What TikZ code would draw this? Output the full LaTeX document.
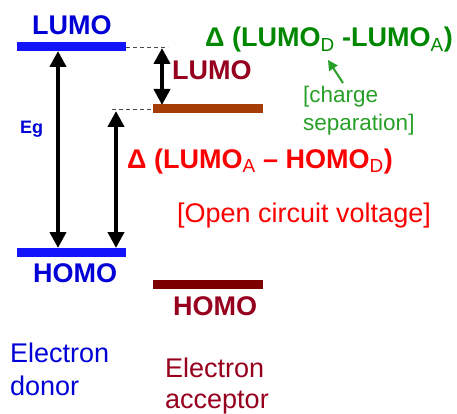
\documentclass[tikz,border=0pt]{standalone}
\usepackage{fontspec}
\setmainfont{Liberation Sans}
\usetikzlibrary{arrows.meta}
\definecolor{donorblue}{RGB}{0,0,215}
\definecolor{barblue}{RGB}{20,20,250}
\definecolor{lumobrown}{RGB}{165,60,5}
\definecolor{accred}{RGB}{150,0,30}
\definecolor{homored}{RGB}{125,0,0}
\definecolor{deltagreen}{RGB}{0,135,0}
\definecolor{notegreen}{RGB}{40,160,40}
\definecolor{ocvred}{RGB}{250,0,0}
\begin{document}
\begin{tikzpicture}[x=1pt,y=-1pt,
    level/.style={line width=9pt},
    gap/.style={{Triangle[width=16pt,length=16pt]}-{Triangle[width=16pt,length=16pt]},line width=4.5pt},
    guide/.style={dash pattern=on 4pt off 3pt,line width=0.8pt,black!70},
    lbl/.style={inner sep=0pt,anchor=base west,font=\bfseries\fontsize{27}{33}\selectfont},
    txt/.style={inner sep=0pt,anchor=base west,align=left,font=\fontsize{27}{33}\selectfont}]
  \useasboundingbox (0,0) rectangle (457,414);
  % energy levels
  \coordinate (dLl) at (17,47);   \coordinate (dLr) at (126,47);
  \coordinate (dHl) at (17,252);  \coordinate (dHr) at (126,252);
  \coordinate (aLl) at (153,109); \coordinate (aLr) at (263,109);
  \coordinate (aHl) at (153,284); \coordinate (aHr) at (263,284);
  \draw[level,barblue] (dLl)--(dLr);
  \draw[level,barblue] (dHl)--(dHr);
  \draw[level,lumobrown] (aLl)--(aLr);
  \draw[level,homored] (aHl)--(aHr);
  % dashed guides
  \coordinate (g1) at (168,47);
  \coordinate (g2) at (112,109);
  \draw[guide] (dLr)--(g1);
  \draw[guide] (g2)--(aLl);
  % gaps
  \coordinate (egT) at (58,51);   \coordinate (egB) at (58,248);
  \coordinate (dlT) at (162,48);  \coordinate (dlB) at (162,105);
  \coordinate (ocT) at (116,111); \coordinate (ocB) at (116,248);
  \draw[gap] (egT)--(egB);
  \draw[gap] (dlT)--(dlB);
  \draw[gap] (ocT)--(ocB);
  % labels
  \node[lbl,donorblue] (dLumo) at (32,35) {LUMO};
  \node[lbl,donorblue] (dHomo) at (33,282) {HOMO};
  \node[lbl,accred] (aLumo) at (172,80) {LUMO};
  \node[lbl,accred] (aHomo) at (173,315) {HOMO};
  \node[lbl,donorblue,font=\bfseries\fontsize{18}{21}\selectfont] (eg) at (20,134) {Eg};
  \node[lbl,deltagreen] (dLL) at (205,47)
    {Δ (LUMO\textsubscript{\mdseries D} -LUMO\textsubscript{\mdseries A})};
  \node[lbl,ocvred] (dLH) at (127,168)
    {Δ (LUMO\textsubscript{\mdseries A} -- HOMO\textsubscript{\mdseries D})};
  \node[txt,ocvred] (ocv) at (177,222) {[Open circuit voltage]};
  \node[txt,notegreen,font=\fontsize{22.5}{28}\selectfont] (sep) at (303,131) {[charge\\separation]};
  \node[txt,donorblue] (donor) at (10,395) {Electron\\donor};
  \node[txt,accred,font=\fontsize{27}{31}\selectfont] (acc) at (165,408) {Electron\\acceptor};
  % pointer to the green label
  \coordinate (pS) at (343,83);
  \coordinate (pE) at (328,60);
  \draw[-{Triangle[width=10pt,length=10pt]},line width=2pt,notegreen] (pS)--(pE);
\end{tikzpicture}
\end{document}
